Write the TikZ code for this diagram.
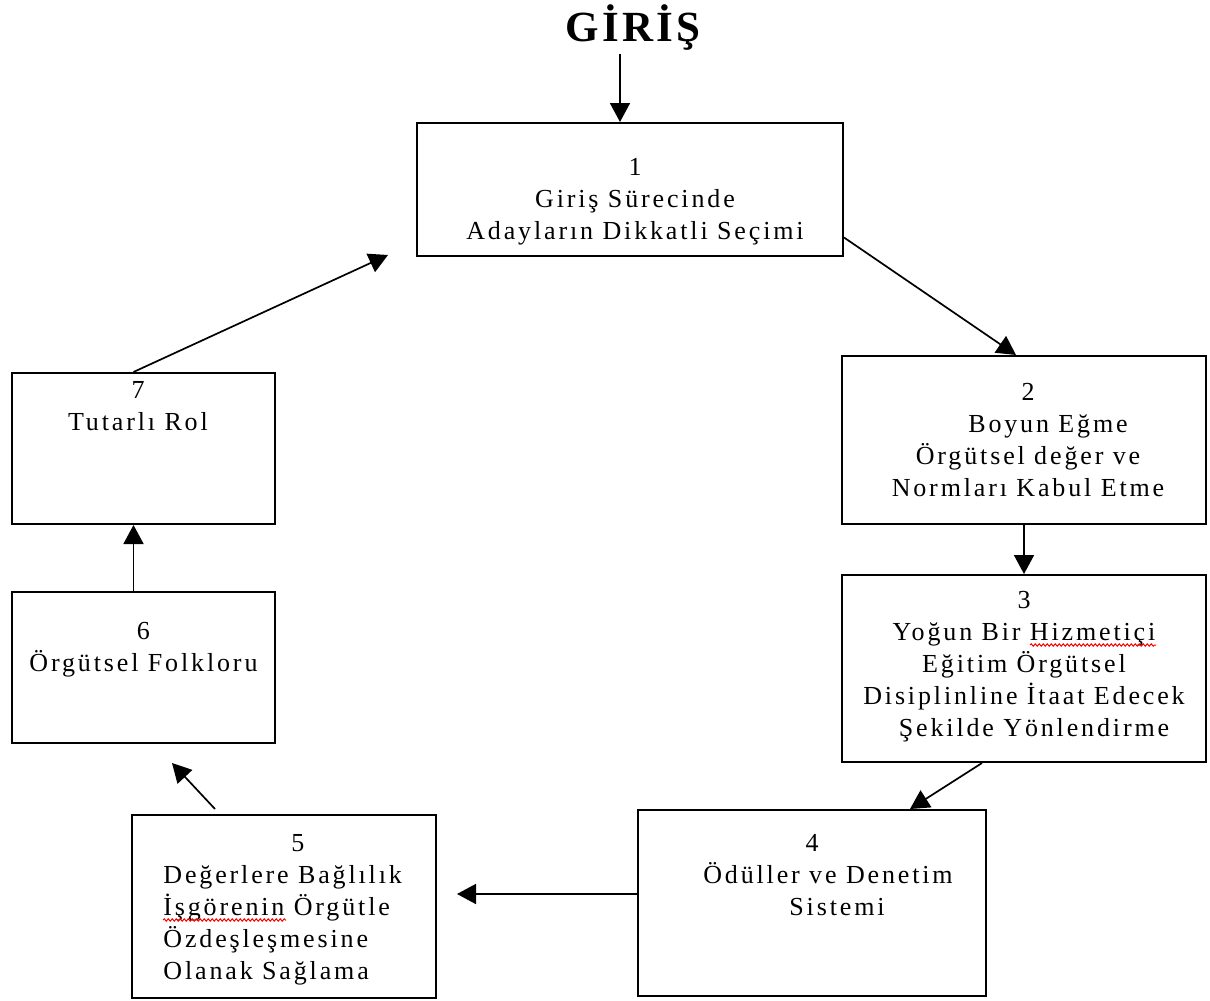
\documentclass[tikz,border=0pt]{standalone}
\usepackage{fontspec}
\setmainfont{Liberation Serif}
\newfontfamily\boxfont{Liberation Serif}[LetterSpace=11]
\newfontfamily\titlefont{Liberation Serif}[LetterSpace=8]
\usetikzlibrary{arrows.meta,positioning,calc,decorations.pathmorphing}

\begin{document}
\begin{tikzpicture}[x=0.5pt, y=-0.5pt, >={Triangle[length=9.5pt,width=10pt]},
    stagebox/.style={draw, line width=1pt, inner sep=0pt},
    stagetext/.style={font=\boxfont\fontsize{13}{16}\selectfont, align=center, inner sep=0pt},
    arr/.style={->, line width=0.85pt},
    spellwave/.style={red, line width=0.5pt, decorate, decoration={snake, segment length=2pt, amplitude=0.6pt}}]
  \useasboundingbox (0,0) rectangle (1210,1001);
  \node[font=\titlefont\bfseries\fontsize{21.5}{24}\selectfont, inner sep=0pt] (giris) at (633,28) {GİRİŞ};
  % boxes
  \node[stagebox, minimum width=213pt, minimum height=66.5pt] (b1) at (630,189.5) {};
  \node[stagebox, minimum width=182pt, minimum height=84pt] (b2) at (1024,440) {};
  \node[stagebox, minimum width=182pt, minimum height=93.5pt] (b3) at (1024,668.5) {};
  \node[stagebox, minimum width=174pt, minimum height=93pt] (b4) at (812,903) {};
  \node[stagebox, minimum width=152pt, minimum height=91.5pt] (b5) at (284,906.5) {};
  \node[stagebox, minimum width=131.5pt, minimum height=75.5pt] (b6) at (143.5,667.5) {};
  \node[stagebox, minimum width=131.5pt, minimum height=75.5pt] (b7) at (143.5,448.5) {};
  % texts
  \node[stagetext] (t1) at (635,202) {1\\Giriş Sürecinde\\Adayların Dikkatli Seçimi};
  \node[stagetext] (t2) at (1028,440) {2\\\hspace*{20pt}Boyun Eğme\\Örgütsel değer ve\\Normları Kabul Etme};
  \node[stagetext] (t3) at (1024,667) {3\\Yoğun Bir Hizmetiçi\\Eğitim Örgütsel\\Disiplinline İtaat Edecek\\\hspace*{10pt}Şekilde Yönlendirme};
  \node[stagetext] (t4) at (828,875) {4\hspace*{16pt}\\Ödüller ve Denetim\\\hspace*{9pt}Sistemi};
  \node[stagetext, align=left, anchor=west] (t5) at (163,910) {\hspace*{64pt}5\\Değerlere Bağlılık\\İşgörenin Örgütle\\Özdeşleşmesine\\Olanak Sağlama};
  \node[stagetext] (t6) at (143.5,649.5) {6\\Örgütsel Folkloru};
  \node[stagetext] (t7) at (138,406) {7\\Tutarlı Rol};
  % spell-check marks
  \draw[spellwave] (1030,645) -- (1156,645);
  \draw[spellwave] (163,920) -- (286,920);
  % free arrow ends
  \coordinate (e45) at (457,894);
  \coordinate (e56) at (172,763);
  \coordinate (e71) at (388,255);
  % arrows
  \draw[arr] ($(giris.south)+(-13,3)$) -- ($(b1.north)+(-10,0)$);
  \draw[arr] ($(b1.east)+(0,48)$) -- ($(b2.north)+(-8,0)$);
  \draw[arr] (b2) -- (b3);
  \draw[arr] ($(b3.south)+(-42,0)$) -- ($(b4.north)+(98,0)$);
  \draw[arr] (b4.west |- e45) -- (e45);
  \draw[arr] ($(b5.north)+(-69,-5)$) -- (e56);
  \draw[arr] ($(b6.north)+(-10,0)$) -- ($(b7.south)+(-10,0)$);
  \draw[arr] ($(b7.north)+(-10,0)$) -- (e71);
\end{tikzpicture}
\end{document}
